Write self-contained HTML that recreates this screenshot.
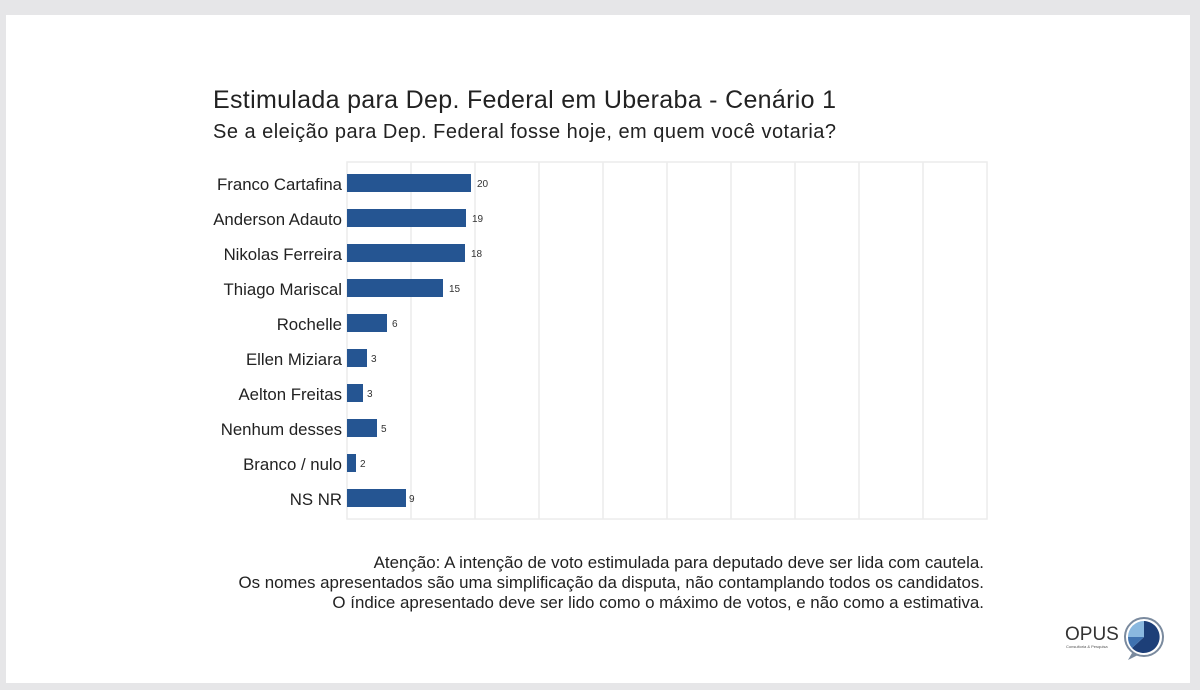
<!DOCTYPE html>
<html><head><meta charset="utf-8"><style>
body{margin:0;width:1200px;height:690px;background:#e6e6e8;overflow:hidden;font-family:"Liberation Sans",sans-serif;}
#card{position:absolute;left:6px;top:15px;width:1184px;height:668px;background:#fff;}
</style></head><body>
<div id="card"></div>
<svg width="1200" height="690" style="position:absolute;left:0;top:0" font-family="Liberation Sans, sans-serif">
<text x="213" y="108" font-size="25" fill="#222" textLength="623">Estimulada para Dep. Federal em Uberaba - Cenário 1</text>
<text x="213" y="138" font-size="20" fill="#222" textLength="623">Se a eleição para Dep. Federal fosse hoje, em quem você votaria?</text>
<g stroke="#ececec" stroke-width="1.5" fill="none">
<rect x="347" y="162" width="640" height="357"/>
<line x1="411" y1="162" x2="411" y2="519"/><line x1="475" y1="162" x2="475" y2="519"/>
<line x1="539" y1="162" x2="539" y2="519"/><line x1="603" y1="162" x2="603" y2="519"/>
<line x1="667" y1="162" x2="667" y2="519"/><line x1="731" y1="162" x2="731" y2="519"/>
<line x1="795" y1="162" x2="795" y2="519"/><line x1="859" y1="162" x2="859" y2="519"/>
<line x1="923" y1="162" x2="923" y2="519"/>
</g>
<g fill="#255592">
<rect x="347" y="174" width="124" height="18"/>
<rect x="347" y="209" width="119" height="18"/>
<rect x="347" y="244" width="118" height="18"/>
<rect x="347" y="279" width="96" height="18"/>
<rect x="347" y="314" width="40" height="18"/>
<rect x="347" y="349" width="20" height="18"/>
<rect x="347" y="384" width="16" height="18"/>
<rect x="347" y="419" width="30" height="18"/>
<rect x="347" y="454" width="9" height="18"/>
<rect x="347" y="489" width="59" height="18"/>
</g>
<g font-size="10" fill="#333">
<text x="477" y="187">20</text><text x="472" y="222">19</text><text x="471" y="257">18</text>
<text x="449" y="292">15</text><text x="392" y="327">6</text><text x="371" y="362">3</text>
<text x="367" y="397">3</text><text x="381" y="432">5</text><text x="360" y="467">2</text><text x="409" y="502">9</text>
</g>
<g font-size="16.8" fill="#222" text-anchor="end">
<text x="342" y="190">Franco Cartafina</text><text x="342" y="225">Anderson Adauto</text>
<text x="342" y="260">Nikolas Ferreira</text><text x="342" y="295">Thiago Mariscal</text>
<text x="342" y="330">Rochelle</text><text x="342" y="365">Ellen Miziara</text>
<text x="342" y="400">Aelton Freitas</text><text x="342" y="435">Nenhum desses</text>
<text x="342" y="470">Branco / nulo</text><text x="342" y="505">NS NR</text>
</g>
<g font-size="16.9" fill="#222" text-anchor="end">
<text x="984" y="568">Atenção: A intenção de voto estimulada para deputado deve ser lida com cautela.</text>
<text x="984" y="588">Os nomes apresentados são uma simplificação da disputa, não contamplando todos os candidatos.</text>
<text x="984" y="608">O índice apresentado deve ser lido como o máximo de votos, e não como a estimativa.</text>
</g>
<text x="1065" y="640" font-size="19" fill="#333">OPUS</text>
<text x="1066" y="648" font-size="4" fill="#555">Consultoria &amp; Pesquisa</text>
<circle cx="1144" cy="637" r="19" fill="#fff" stroke="#7a8a9e" stroke-width="2"/>
<path d="M1144 637 L1144 621 A16 16 0 1 1 1132 648 Z" fill="#1d3f78"/>
<path d="M1144 637 L1132 648 A16 16 0 0 1 1128 637 Z" fill="#3f72b0"/>
<path d="M1144 637 L1128 637 A16 16 0 0 1 1144 621 Z" fill="#8ab8df"/>
<path d="M1132 653 L1128 660 L1138 655 Z" fill="#7a8a9e"/>
</svg>
</body></html>
